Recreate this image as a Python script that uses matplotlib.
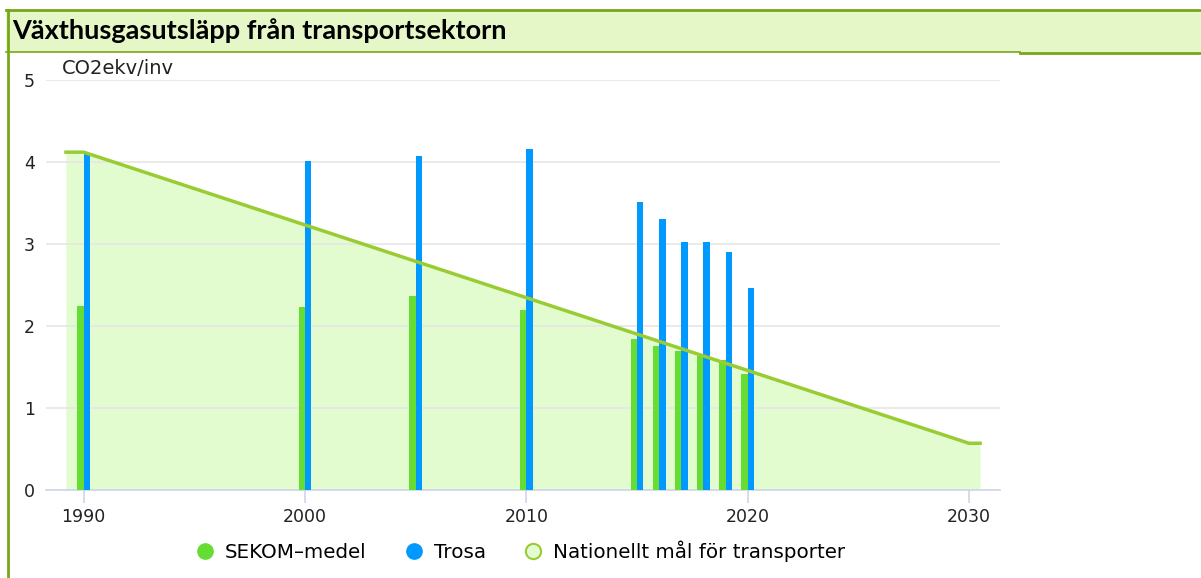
import numpy as np
import matplotlib.pyplot as plt
from matplotlib.lines import Line2D
from matplotlib.patches import Rectangle

years = [1990, 2000, 2005, 2010, 2015, 2016, 2017, 2018, 2019, 2020]
sekom = [2.24, 2.23, 2.37, 2.20, 1.84, 1.76, 1.70, 1.64, 1.59, 1.42]
trosa = [4.10, 4.01, 4.07, 4.16, 3.51, 3.30, 3.03, 3.03, 2.90, 2.46]

goal_years = [1989.2, 1990, 2030, 2030.5]
goal_vals = [4.12, 4.12, 0.57, 0.57]

c_green = '#66dd33'
c_blue = '#0099ff'
c_goal = '#99cc33'
c_fill = '#e2fbcf'
c_axis = '#ccd6eb'

fig = plt.figure(figsize=(12.01, 5.78), dpi=100)
ax = fig.add_axes([46/1201, 1-490/578, (1000-46)/1201, (490-80)/578])

# target line with fill
ax.fill_between(goal_years, goal_vals, 0, color=c_fill, lw=0, zorder=1)
ax.plot(goal_years, goal_vals, color=c_goal, lw=2.5, zorder=4)

bw = 0.29
ax.bar(years, sekom, -bw, align='edge', color=c_green, zorder=3)
ax.bar(years, trosa, bw, align='edge', color=c_blue, zorder=3)

ax.set_xlim(1988.3, 2031.4)
ax.set_ylim(0, 5)
ax.set_yticks([0, 1, 2, 3, 4, 5])
ax.set_xticks([1990, 2000, 2010, 2020, 2030])
ax.grid(axis='y', color='#e6e6e6', lw=1.2, zorder=0)
for s in ['top', 'right', 'left']:
    ax.spines[s].set_visible(False)
ax.spines['bottom'].set_color(c_axis)
ax.spines['bottom'].set_linewidth(1.2)
ax.tick_params(axis='y', length=0, pad=8, labelsize=12.5, labelcolor='#222222')
ax.tick_params(axis='x', length=9, width=1.2, color=c_axis, pad=4,
               labelsize=12.5, labelcolor='#222222')
ax.text(0.017, 1.005, 'CO2ekv/inv', transform=ax.transAxes, fontsize=14,
        color='#222222', va='bottom', ha='left')

# title box
fig.patches.append(Rectangle((6/1201, 1-52/578), 1195/1201, 42/578,
                             transform=fig.transFigure, facecolor='#e6f7c7',
                             edgecolor='none', zorder=0))
fig.add_artist(Line2D([6/1201, 1], [1-10/578]*2, color='#78a61b', lw=2))
fig.add_artist(Line2D([6/1201, 1020/1201], [1-52/578]*2, color='#78a61b', lw=1.2))
fig.add_artist(Line2D([1020/1201, 1], [1-53/578]*2, color='#78a61b', lw=2))
fig.add_artist(Line2D([8/1201]*2, [0, 1-10/578], color='#78a61b', lw=2))
fig.text(12/1201, 1-31/578, 'Växthusgasutsläpp från transportsektorn',
         fontsize=19.5, fontweight='bold', family='Lato', va='center', ha='left')

handles = [
    Line2D([], [], ls='none', marker='o', ms=11, mfc=c_green, mec=c_green),
    Line2D([], [], ls='none', marker='o', ms=11, mfc=c_blue, mec=c_blue),
    Line2D([], [], ls='none', marker='o', ms=11, mfc=c_fill, mec=c_goal, mew=1.5),
]
fig.legend(handles, ['SEKOM–medel', 'Trosa', 'Nationellt mål för transporter'],
           loc='center', bbox_to_anchor=(520/1201, 1-551/578), ncol=3,
           frameon=False, fontsize=14.3, handletextpad=0.5, columnspacing=1.9,
           handlelength=1.0)

fig.savefig('out.png', dpi=100)
